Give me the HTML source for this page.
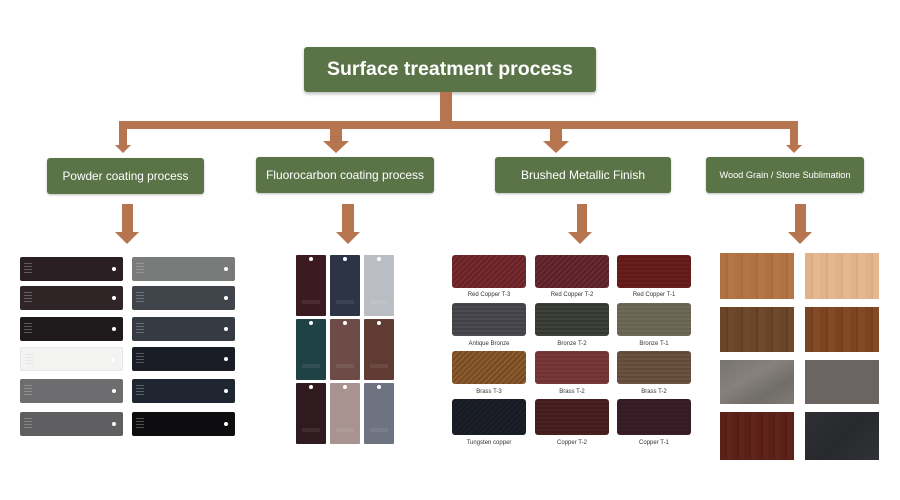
<!DOCTYPE html>
<html><head><meta charset="utf-8"><style>
*{margin:0;padding:0;box-sizing:border-box}
body{width:900px;height:500px;background:#fff;position:relative;overflow:hidden;font-family:"Liberation Sans",sans-serif}
.a{position:absolute}
.c{background:#b6744f;position:absolute}
.box{position:absolute;background:#5a7448;border-radius:3px;color:#fff;display:flex;align-items:center;justify-content:center;box-shadow:0 1px 2px rgba(0,0,0,0.25);white-space:nowrap}
.p{position:absolute;width:103px;height:24px;border-radius:2px}
.p::before{content:"";position:absolute;left:4px;top:6px;width:8px;height:12px;background:repeating-linear-gradient(#ccc 0 1px,transparent 1px 3px);opacity:.35}
.p::after{content:"";position:absolute;right:7px;top:10px;width:4px;height:4px;border-radius:50%;background:#fff}
.f{position:absolute;width:30px;height:61px;border-radius:1px}
.f::before{content:"";position:absolute;left:13px;top:2px;width:4px;height:4px;border-radius:50%;background:#fff}
.f::after{content:"";position:absolute;left:6px;bottom:12px;width:18px;height:4px;background:rgba(255,255,255,0.08)}
.b{position:absolute;width:74px;height:33px;border-radius:3px}
.lb{position:absolute;width:90px;text-align:center;font-size:6px;color:#333}
.w{position:absolute;width:74px;height:46px}
</style></head><body>

<!-- title -->
<div class="box" style="left:304px;top:47px;width:292px;height:45px;font-weight:bold;font-size:19.5px;box-shadow:0 2px 3px rgba(0,0,0,0.25)">Surface treatment process</div>

<!-- connectors -->
<div class="c" style="left:440px;top:92px;width:12px;height:37px"></div>
<div class="c" style="left:119px;top:121px;width:679px;height:8px"></div>
<div class="c" style="left:119px;top:129px;width:8px;height:17px"></div>
<div class="a" style="left:115px;top:145px;width:0;height:0;border-left:8px solid transparent;border-right:8px solid transparent;border-top:8px solid #b6744f"></div>
<div class="c" style="left:330px;top:129px;width:12px;height:13px"></div>
<div class="a" style="left:323px;top:141px;width:0;height:0;border-left:13px solid transparent;border-right:13px solid transparent;border-top:12px solid #b6744f"></div>
<div class="c" style="left:550px;top:129px;width:12px;height:13px"></div>
<div class="a" style="left:543px;top:141px;width:0;height:0;border-left:13px solid transparent;border-right:13px solid transparent;border-top:12px solid #b6744f"></div>
<div class="c" style="left:790px;top:121px;width:8px;height:25px"></div>
<div class="a" style="left:786px;top:145px;width:0;height:0;border-left:8px solid transparent;border-right:8px solid transparent;border-top:8px solid #b6744f"></div>

<!-- sub boxes -->
<div class="box" style="left:47px;top:158px;width:157px;height:36px;font-size:11.8px">Powder coating process</div>
<div class="box" style="left:256px;top:157px;width:178px;height:36px;font-size:12px">Fluorocarbon coating process</div>
<div class="box" style="left:495px;top:157px;width:176px;height:36px;font-size:12px">Brushed Metallic Finish</div>
<div class="box" style="left:706px;top:157px;width:158px;height:36px;font-size:9.2px">Wood Grain / Stone Sublimation</div>

<!-- lower arrows -->
<div class="c" style="left:122px;top:204px;width:11px;height:29px"></div>
<div class="a" style="left:115px;top:232px;border-left:12px solid transparent;border-right:12px solid transparent;border-top:12px solid #b6744f"></div>
<div class="c" style="left:342px;top:204px;width:12px;height:29px"></div>
<div class="a" style="left:336px;top:232px;border-left:12px solid transparent;border-right:12px solid transparent;border-top:12px solid #b6744f"></div>
<div class="c" style="left:577px;top:204px;width:10px;height:29px"></div>
<div class="a" style="left:568px;top:232px;border-left:12px solid transparent;border-right:12px solid transparent;border-top:12px solid #b6744f"></div>
<div class="c" style="left:795px;top:204px;width:11px;height:29px"></div>
<div class="a" style="left:788px;top:232px;border-left:12.5px solid transparent;border-right:12.5px solid transparent;border-top:12px solid #b6744f"></div>

<!-- powder swatches -->
<div class="p" style="left:20px;top:257px;background:#2a1f23"></div>
<div class="p" style="left:20px;top:286px;background:#2f2527"></div>
<div class="p" style="left:20px;top:317px;background:#1e191b"></div>
<div class="p" style="left:20px;top:347px;background:#f3f3f2;border:1px solid #e6e6e6"></div>
<div class="p" style="left:20px;top:379px;background:#6d6d70"></div>
<div class="p" style="left:20px;top:412px;background:#5f5e60"></div>
<div class="p" style="left:132px;top:257px;background:#797a7a"></div>
<div class="p" style="left:132px;top:286px;background:#40454b"></div>
<div class="p" style="left:132px;top:317px;background:#363b43"></div>
<div class="p" style="left:132px;top:347px;background:#1a1d25"></div>
<div class="p" style="left:132px;top:379px;background:#1f2631"></div>
<div class="p" style="left:132px;top:412px;background:#0d0d10"></div>

<!-- fluorocarbon -->
<div class="f" style="left:296px;top:255px;background:#3b1b21"></div>
<div class="f" style="left:330px;top:255px;background:#2d3445"></div>
<div class="f" style="left:364px;top:255px;background:#babdc3"></div>
<div class="f" style="left:296px;top:319px;background:#1f4247"></div>
<div class="f" style="left:330px;top:319px;background:#6e4b46"></div>
<div class="f" style="left:364px;top:319px;background:#5f3b34"></div>
<div class="f" style="left:296px;top:383px;background:#2f1b1f"></div>
<div class="f" style="left:330px;top:383px;background:#a99391"></div>
<div class="f" style="left:364px;top:383px;background:#6d7381"></div>

<!-- brushed -->
<div class="b" style="left:452px;top:255px;background:repeating-linear-gradient(135deg,#7a2b2f 0 2px,#642226 2px 4px)"></div>
<div class="b" style="left:535px;top:255px;background:repeating-linear-gradient(135deg,#6a2b31 0 2px,#562126 2px 4px)"></div>
<div class="b" style="left:617px;top:255px;background:repeating-linear-gradient(0deg,#6a1e1c 0 2px,#611a1a 2px 4px)"></div>
<div class="lb" style="left:444px;top:292px">Red Copper T-3</div>
<div class="lb" style="left:527px;top:292px">Red Copper T-2</div>
<div class="lb" style="left:609px;top:292px">Red Copper T-1</div>

<div class="b" style="left:452px;top:303px;background:repeating-linear-gradient(0deg,#4a4a51 0 2px,#414147 2px 4px)"></div>
<div class="b" style="left:535px;top:303px;background:repeating-linear-gradient(0deg,#3f423a 0 2px,#34372f 2px 4px)"></div>
<div class="b" style="left:617px;top:303px;background:repeating-linear-gradient(0deg,#6f6a58 0 2px,#67614f 2px 4px)"></div>
<div class="lb" style="left:444px;top:341px">Antique Bronze</div>
<div class="lb" style="left:527px;top:341px">Bronze T-2</div>
<div class="lb" style="left:609px;top:341px">Bronze T-1</div>

<div class="b" style="left:452px;top:351px;background:repeating-linear-gradient(135deg,#8e5c2c 0 2px,#744a24 2px 4px)"></div>
<div class="b" style="left:535px;top:351px;background:repeating-linear-gradient(0deg,#7a393a 0 2px,#703334 2px 4px)"></div>
<div class="b" style="left:617px;top:351px;background:repeating-linear-gradient(0deg,#6c5241 0 2px,#624a3a 2px 4px)"></div>
<div class="lb" style="left:444px;top:389px">Brass T-3</div>
<div class="lb" style="left:527px;top:389px">Brass T-2</div>
<div class="lb" style="left:609px;top:389px">Brass T-2</div>

<div class="b" style="left:452px;top:399px;height:36px;background:repeating-linear-gradient(135deg,#1c2029 0 2px,#171a22 2px 4px)"></div>
<div class="b" style="left:535px;top:399px;height:36px;background:repeating-linear-gradient(0deg,#4a2121 0 2px,#431d1d 2px 4px)"></div>
<div class="b" style="left:617px;top:399px;height:36px;background:repeating-linear-gradient(0deg,#3b1f27 0 2px,#351b23 2px 4px)"></div>
<div class="lb" style="left:444px;top:440px">Tungsten copper</div>
<div class="lb" style="left:527px;top:440px">Copper T-2</div>
<div class="lb" style="left:609px;top:440px">Copper T-1</div>

<!-- wood / stone -->
<div class="w" style="left:720px;top:253px;background:repeating-linear-gradient(90deg,#b17243 0 6px,#a96c3f 6px 8px,#b57647 8px 15px)"></div>
<div class="w" style="left:805px;top:253px;background:repeating-linear-gradient(90deg,#e2b38b 0 6px,#dcab82 6px 8px,#e5b890 8px 15px)"></div>
<div class="w" style="left:720px;top:307px;height:45px;background:repeating-linear-gradient(90deg,#6b4528 0 6px,#623f24 6px 8px,#70492c 8px 15px)"></div>
<div class="w" style="left:805px;top:307px;height:45px;background:repeating-linear-gradient(90deg,#7b4522 0 6px,#71401f 6px 8px,#824a25 8px 15px)"></div>
<div class="w" style="left:720px;top:360px;height:44px;background:linear-gradient(150deg,#787470,#86817c 40%,#716d69 70%,#7f7a75)"></div>
<div class="w" style="left:805px;top:360px;height:44px;background:#6a6563"></div>
<div class="w" style="left:720px;top:412px;height:48px;background:repeating-linear-gradient(90deg,#5b2118 0 5px,#531e16 5px 7px,#60241a 7px 12px)"></div>
<div class="w" style="left:805px;top:412px;height:48px;background:linear-gradient(135deg,#2e3034,#27292d 50%,#303236)"></div>

</body></html>
